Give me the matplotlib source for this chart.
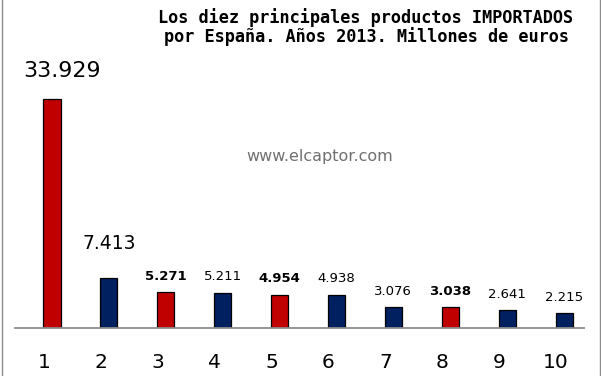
import matplotlib

matplotlib.use("Agg")

import matplotlib.pyplot as plt
import matplotlib.transforms as mtransforms
from matplotlib.lines import Line2D

# Top 10 products imported by Spain, 2013 (million euros)
ranks = ["1", "2", "3", "4", "5", "6", "7", "8", "9", "10"]
values = [33.929, 7.413, 5.271, 5.211, 4.954, 4.938, 3.076, 3.038, 2.641, 2.215]
value_labels = ["33.929", "7.413", "5.271", "5.211", "4.954", "4.938",
                "3.076", "3.038", "2.641", "2.215"]
highlighted = [True, False, True, False, True, False, False, True, False, False]

RED = "#c00000"
NAVY = "#002060"

W, H, DPI = 601, 376, 100
fig = plt.figure(figsize=(W / DPI, H / DPI), dpi=DPI)
fig.patch.set_facecolor("white")

ax = fig.add_axes([15 / W, 48 / H, 569 / W, 268 / H])
x = list(range(1, len(values) + 1))
colors = [RED if h else NAVY for h in highlighted]
ax.bar(x, values, width=0.3, color=colors, edgecolor="black", linewidth=0.9, zorder=2)

ax.set_xlim(0.35, 10.35)
ax.set_ylim(0, 39.7)

# value labels: first two are big, the highlighted small ones are bold
for i, (xi, v, lab) in enumerate(zip(x, values, value_labels)):
    dx = 0
    if i == 0:
        size, weight, off, dx = 16, "normal", 20, 7
    elif i == 1:
        size, weight, off = 13.5, "normal", 25
    else:
        size, weight, off = 9.5, "bold" if highlighted[i] else "normal", 11.5
    ax.annotate(lab, (xi, v), xytext=(dx, off), textcoords="offset points",
                ha="center", va="center", fontsize=size, fontweight=weight,
                color="black")

ax.set_xticks(x)
ax.set_xticklabels(ranks, fontsize=14.5)
ax.tick_params(axis="x", length=0, pad=18)
# category labels sit a little left of their bars in the original
shift = mtransforms.ScaledTranslation(-8 / DPI, 0, fig.dpi_scale_trans)
for lbl in ax.get_xticklabels():
    lbl.set_transform(lbl.get_transform() + shift)
ax.set_yticks([])
for side in ("top", "right", "left"):
    ax.spines[side].set_visible(False)
ax.spines["bottom"].set_color("#8c8c8c")
ax.spines["bottom"].set_linewidth(1.3)

fig.text(366 / W, 1 - 18 / H, "Los diez principales productos IMPORTADOS",
         ha="center", va="center", fontsize=12.2, fontweight="bold",
         family="DejaVu Sans Mono")
fig.text(366 / W, 1 - 37 / H, "por España. Años 2013. Millones de euros",
         ha="center", va="center", fontsize=12.2, fontweight="bold",
         family="DejaVu Sans Mono")

fig.text(320 / W, 1 - 156 / H, "www.elcaptor.com", ha="center", va="center",
         fontsize=11.5, color="#707070")

# thin grey frame on the sides
fig.add_artist(Line2D([1.5 / W, 1.5 / W], [0, 1], color="#8c8c8c", linewidth=1))
fig.add_artist(Line2D([599.5 / W, 599.5 / W], [0, 1], color="#8c8c8c", linewidth=1))

fig.savefig("out.png", dpi=DPI)
